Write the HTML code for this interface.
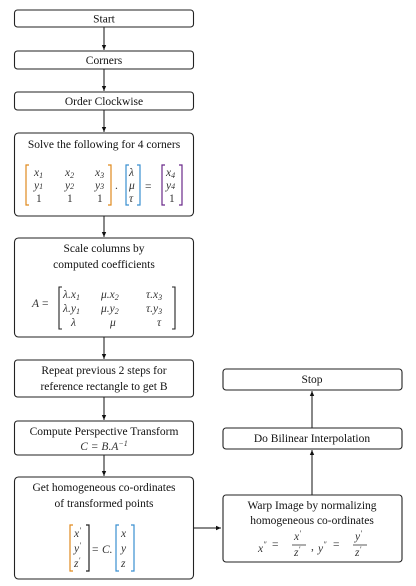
<!DOCTYPE html>
<html><head><meta charset="utf-8"><style>
html,body{margin:0;padding:0;background:#fff;width:416px;height:586px;overflow:hidden}
svg{display:block}
text{font-family:"Liberation Serif","DejaVu Serif",serif;font-size:11.5px;fill:#111}
.m{font-style:italic;fill:#333}
.n{fill:#333}
.box{fill:#fff;stroke:#222;stroke-width:1.1}
.ln{stroke:#111;stroke-width:1;fill:none}
</style></head><body>
<svg width="416" height="586" viewBox="0 0 416 586">
<defs><marker id="ah" markerWidth="6" markerHeight="6" refX="5" refY="3" orient="auto"><path d="M0,0.8 L5,3 L0,5.2 z" fill="#111"/></marker></defs>

<g>
<line class="ln" x1="104" y1="27" x2="104" y2="50" marker-end="url(#ah)"/>
<line class="ln" x1="104" y1="69" x2="104" y2="91" marker-end="url(#ah)"/>
<line class="ln" x1="104" y1="110" x2="104" y2="132" marker-end="url(#ah)"/>
<line class="ln" x1="104" y1="216" x2="104" y2="237" marker-end="url(#ah)"/>
<line class="ln" x1="104" y1="337" x2="104" y2="359" marker-end="url(#ah)"/>
<line class="ln" x1="104" y1="397" x2="104" y2="420" marker-end="url(#ah)"/>
<line class="ln" x1="104" y1="455" x2="104" y2="476" marker-end="url(#ah)"/>
<line class="ln" x1="193" y1="528" x2="221" y2="528" marker-end="url(#ah)"/>
<line class="ln" x1="312" y1="495" x2="312" y2="450" marker-end="url(#ah)"/>
<line class="ln" x1="312" y1="428" x2="312" y2="391" marker-end="url(#ah)"/>
</g>

<g>
<rect class="box" x="14.5" y="10" width="179" height="17" rx="3"/>
<text x="104" y="22.5" text-anchor="middle">Start</text></g>

<g>
<rect class="box" x="14.5" y="51" width="179" height="18" rx="3"/>
<text x="104" y="64" text-anchor="middle">Corners</text></g>

<g>
<rect class="box" x="14.5" y="92" width="179" height="18" rx="3"/>
<text x="104" y="105" text-anchor="middle">Order Clockwise</text></g>

<g>
<rect class="box" x="14.5" y="133" width="179" height="83" rx="4"/>
<text x="104" y="148" text-anchor="middle">Solve the following for 4 corners</text>
<path d="M29,165 h-3 v40 h3" stroke="#e08a1e" fill="none" stroke-width="1.2"/>
<path d="M108,165 h3 v40 h-3" stroke="#e08a1e" fill="none" stroke-width="1.2"/>
<text class="m" x="34" y="176">x<tspan font-size="8" dy="2">1</tspan></text>
<text class="m" x="65" y="176">x<tspan font-size="8" dy="2">2</tspan></text>
<text class="m" x="95" y="176">x<tspan font-size="8" dy="2">3</tspan></text>
<text class="m" x="34" y="189">y<tspan font-size="8">1</tspan></text>
<text class="m" x="65" y="189">y<tspan font-size="8">2</tspan></text>
<text class="m" x="95" y="189">y<tspan font-size="8">3</tspan></text>
<text class="n" x="36" y="202">1</text><text class="n" x="67" y="202">1</text><text class="n" x="97" y="202">1</text>
<text class="n" x="115" y="189">.</text>
<path d="M129,165 h-3 v40 h3" stroke="#3a8fd0" fill="none" stroke-width="1.2"/>
<path d="M137,165 h3 v40 h-3" stroke="#3a8fd0" fill="none" stroke-width="1.2"/>
<text class="m" x="129" y="176">λ</text><text class="m" x="129" y="189">μ</text><text class="m" x="129" y="202">τ</text>
<text class="n" x="145" y="190">=</text>
<path d="M165,165 h-3 v40 h3" stroke="#6a2a8a" fill="none" stroke-width="1.2"/>
<path d="M179,165 h3 v40 h-3" stroke="#6a2a8a" fill="none" stroke-width="1.2"/>
<text class="m" x="166" y="176">x<tspan font-size="8" dy="2">4</tspan></text>
<text class="m" x="166" y="189">y<tspan font-size="8">4</tspan></text>
<text class="n" x="169" y="202">1</text>
</g>

<g>
<rect class="box" x="14.5" y="238" width="179" height="99" rx="4"/>
<text x="104" y="252" text-anchor="middle">Scale columns by</text>
<text x="104" y="268" text-anchor="middle">computed coefficients</text>
<text class="m" x="32" y="307">A</text><text class="n" x="42" y="307">=</text>
<path d="M62,287 h-3 v42 h3" stroke="#222" fill="none" stroke-width="1.1"/>
<path d="M172,287 h3 v42 h-3" stroke="#222" fill="none" stroke-width="1.1"/>
<text class="m" x="63" y="298">λ.x<tspan font-size="8" dy="2">1</tspan></text>
<text class="m" x="101" y="298">μ.x<tspan font-size="8" dy="2">2</tspan></text>
<text class="m" x="146" y="298">τ.x<tspan font-size="8" dy="2">3</tspan></text>
<text class="m" x="63" y="312">λ.y<tspan font-size="8" dy="2">1</tspan></text>
<text class="m" x="101" y="312">μ.y<tspan font-size="8" dy="2">2</tspan></text>
<text class="m" x="146" y="312">τ.y<tspan font-size="8" dy="2">3</tspan></text>
<text class="m" x="71" y="326">λ</text><text class="m" x="110" y="326">μ</text><text class="m" x="157" y="326">τ</text>
</g>

<g>
<rect class="box" x="14.5" y="360" width="179" height="37" rx="3"/>
<text x="104" y="374" text-anchor="middle">Repeat previous 2 steps for</text>
<text x="104" y="390" text-anchor="middle">reference rectangle to get B</text></g>

<g>
<rect class="box" x="14.5" y="421" width="179" height="34" rx="3"/>
<text x="104" y="435" text-anchor="middle">Compute Perspective Transform</text>
<text class="m" x="104" y="450" text-anchor="middle">C  =  B.A<tspan font-size="8" dy="-4">−1</tspan></text></g>

<g>
<rect class="box" x="14.5" y="477" width="179" height="102" rx="4"/>
<text x="104" y="491" text-anchor="middle">Get homogeneous co-ordinates</text>
<text x="104" y="507" text-anchor="middle">of transformed points</text>
<path d="M73,525 h-3 v46 h3" stroke="#e08a1e" fill="none" stroke-width="1.2"/>
<path d="M86,525 h3 v46 h-3" stroke="#222" fill="none" stroke-width="1.2"/>
<text class="m" x="74" y="537">x<tspan font-size="8" dy="-4">′</tspan></text>
<text class="m" x="74" y="552">y<tspan font-size="8" dy="-4">′</tspan></text>
<text class="m" x="74" y="567">z<tspan font-size="8" dy="-4">′</tspan></text>
<text class="n" x="92" y="553">= </text><text class="m" x="102" y="553">C.</text>
<path d="M119,525 h-3 v46 h3" stroke="#3a8fd0" fill="none" stroke-width="1.2"/>
<path d="M131,525 h3 v46 h-3" stroke="#3a8fd0" fill="none" stroke-width="1.2"/>
<text class="m" x="121" y="537">x</text><text class="m" x="121" y="552">y</text><text class="m" x="121" y="567">z</text>
</g>

<g>
<rect class="box" x="223" y="495" width="179" height="67" rx="3"/>
<text x="312" y="509" text-anchor="middle">Warp Image by normalizing</text>
<text x="312" y="524" text-anchor="middle">homogeneous co-ordinates</text>
<text class="m" x="258" y="552">x<tspan font-size="8" dy="-5">″</tspan></text>
<text class="n" x="272" y="548">=</text>
<text class="m" x="294" y="540">x<tspan font-size="8" dy="-4">′</tspan></text>
<line x1="292" y1="545" x2="306" y2="545" stroke="#333" stroke-width="0.8"/>
<text class="m" x="294" y="556">z<tspan font-size="8" dy="-4">′</tspan></text>
<text class="n" x="311" y="550">,</text>
<text class="m" x="318" y="552">y<tspan font-size="8" dy="-5">″</tspan></text>
<text class="n" x="333" y="548">=</text>
<text class="m" x="355" y="540">y<tspan font-size="8" dy="-4">′</tspan></text>
<line x1="353" y1="545" x2="367" y2="545" stroke="#333" stroke-width="0.8"/>
<text class="m" x="355" y="556">z<tspan font-size="8" dy="-4">′</tspan></text>
</g>

<g>
<rect class="box" x="223" y="428" width="179" height="21" rx="3"/>
<text x="312" y="442" text-anchor="middle">Do Bilinear Interpolation</text></g>

<g>
<rect class="box" x="223" y="369" width="179" height="21" rx="3"/>
<text x="312" y="383" text-anchor="middle">Stop</text></g>
</svg>
</body></html>
